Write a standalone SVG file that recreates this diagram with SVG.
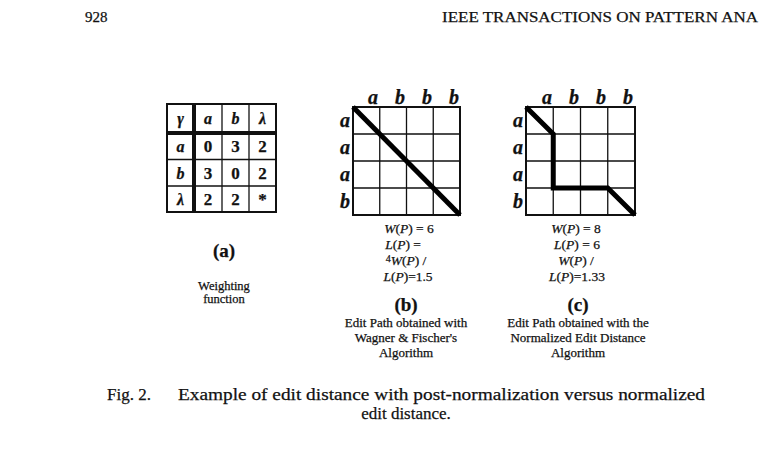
<svg xmlns="http://www.w3.org/2000/svg" width="760" height="454" viewBox="0 0 760 454" font-family="'Liberation Serif', 'Times New Roman', Times, serif">
<style>
text{fill:#111;stroke:#111;stroke-width:0.25}
.hdr{font-size:15px}
.cap{font-size:17px}
.tb{font-size:17px;font-weight:bold;text-anchor:middle}
.ti{font-size:16px;font-weight:bold;font-style:italic;text-anchor:middle}
.gl{font-size:20px;font-weight:bold;font-style:italic;text-anchor:middle}
.eq{font-size:13.5px;text-anchor:middle}
.lab{font-size:19px;font-weight:bold;text-anchor:middle}
.desc{font-size:13px;text-anchor:middle}
.desc2{font-size:12.5px;text-anchor:middle}
.grid{fill:none;stroke:#111;stroke-width:1.3}
.outer{fill:none;stroke:#111;stroke-width:2}
.thick{stroke:#111;stroke-width:4}
.path{fill:none;stroke:#000;stroke-width:5;stroke-linejoin:miter}
</style>
<rect width="760" height="454" fill="#fff"/>
<g id="header">
<text class="hdr" x="85" y="22">928</text>
<text class="hdr" x="442" y="22" textLength="316" lengthAdjust="spacingAndGlyphs">IEEE TRANSACTIONS ON PATTERN ANA</text>
</g>
<g id="table-a">
<rect class="outer" x="167" y="104" width="109" height="108"/>
<line class="grid" x1="222" y1="104" x2="222" y2="212"/>
<line class="grid" x1="249" y1="104" x2="249" y2="212"/>
<line class="grid" x1="167" y1="159.5" x2="276" y2="159.5"/>
<line class="grid" x1="167" y1="186" x2="276" y2="186"/>
<line class="thick" x1="194" y1="104" x2="194" y2="212"/>
<line class="thick" x1="167" y1="133" x2="276" y2="133"/>
<text class="ti" x="180.5" y="124">γ</text>
<text class="ti" x="208" y="124">a</text>
<text class="ti" x="235.5" y="124">b</text>
<text class="ti" x="262.5" y="124">λ</text>
<text class="ti" x="180.5" y="152">a</text>
<text class="tb" x="208" y="152">0</text>
<text class="tb" x="235.5" y="152">3</text>
<text class="tb" x="262.5" y="152">2</text>
<text class="ti" x="180.5" y="178.5">b</text>
<text class="tb" x="208" y="178.5">3</text>
<text class="tb" x="235.5" y="178.5">0</text>
<text class="tb" x="262.5" y="178.5">2</text>
<text class="ti" x="180.5" y="205">λ</text>
<text class="tb" x="208" y="205">2</text>
<text class="tb" x="235.5" y="205">2</text>
<text class="tb" x="262.5" y="205">*</text>
<text class="lab" x="224" y="257">(a)</text>
<text class="desc2" x="224" y="290">Weighting</text>
<text class="desc2" x="224" y="303">function</text>
</g>
<g id="grid-b">
<rect class="outer" x="353" y="107" width="107" height="108"/>
<path class="grid" d="M379.75 107V215M406.5 107V215M433.25 107V215M353 134H460M353 161H460M353 188H460"/>
<text class="gl" x="373" y="104">a</text>
<text class="gl" x="400" y="104">b</text>
<text class="gl" x="427" y="104">b</text>
<text class="gl" x="454" y="104">b</text>
<text class="gl" x="345" y="127">a</text>
<text class="gl" x="345" y="154">a</text>
<text class="gl" x="345" y="181">a</text>
<text class="gl" x="345" y="208">b</text>
<text class="eq" x="409" y="233"><tspan font-style="italic">W</tspan>(<tspan font-style="italic">P</tspan>) = 6</text>
<text class="eq" x="403" y="249"><tspan font-style="italic">L</tspan>(<tspan font-style="italic">P</tspan>) =</text>
<text class="eq" x="406" y="265"><tspan font-size="10" dy="-3">4</tspan><tspan dy="3" font-style="italic">W</tspan>(<tspan font-style="italic">P</tspan>) /</text>
<text class="eq" x="408" y="281"><tspan font-style="italic">L</tspan>(<tspan font-style="italic">P</tspan>)=1.5</text>
<text class="lab" x="406" y="311">(b)</text>
<text class="desc" x="406" y="327">Edit Path obtained with</text>
<text class="desc" x="406" y="342">Wagner &amp; Fischer's</text>
<text class="desc" x="406" y="357">Algorithm</text>
</g>
<g id="grid-c">
<rect class="outer" x="526" y="107" width="109" height="108"/>
<path class="grid" d="M553.25 107V215M580.5 107V215M607.75 107V215M526 134H635M526 161H635M526 188H635"/>
<text class="gl" x="547" y="104">a</text>
<text class="gl" x="574" y="104">b</text>
<text class="gl" x="601" y="104">b</text>
<text class="gl" x="628" y="104">b</text>
<text class="gl" x="518" y="127">a</text>
<text class="gl" x="518" y="154">a</text>
<text class="gl" x="518" y="181">a</text>
<text class="gl" x="518" y="208">b</text>
<text class="eq" x="576" y="233"><tspan font-style="italic">W</tspan>(<tspan font-style="italic">P</tspan>) = 8</text>
<text class="eq" x="577" y="249"><tspan font-style="italic">L</tspan>(<tspan font-style="italic">P</tspan>) = 6</text>
<text class="eq" x="576" y="265"><tspan font-style="italic">W</tspan>(<tspan font-style="italic">P</tspan>) /</text>
<text class="eq" x="577" y="281"><tspan font-style="italic">L</tspan>(<tspan font-style="italic">P</tspan>)=1.33</text>
<text class="lab" x="578" y="311">(c)</text>
<text class="desc" x="578" y="327">Edit Path obtained with the</text>
<text class="desc" x="578" y="342">Normalized Edit Distance</text>
<text class="desc" x="578" y="357">Algorithm</text>
</g>
<g id="connectors">
<path class="path" d="M353 107L460 215"/>
<path class="path" d="M526 107L553.25 134V188H607.75L635 215"/>
</g>
<g id="caption">
<text class="cap" x="107" y="400">Fig. 2.</text>
<text class="cap" x="178" y="400" textLength="527" lengthAdjust="spacingAndGlyphs">Example of edit distance with post-normalization versus normalized</text>
<text class="cap" x="406" y="419" text-anchor="middle">edit distance.</text>
</g>
</svg>
